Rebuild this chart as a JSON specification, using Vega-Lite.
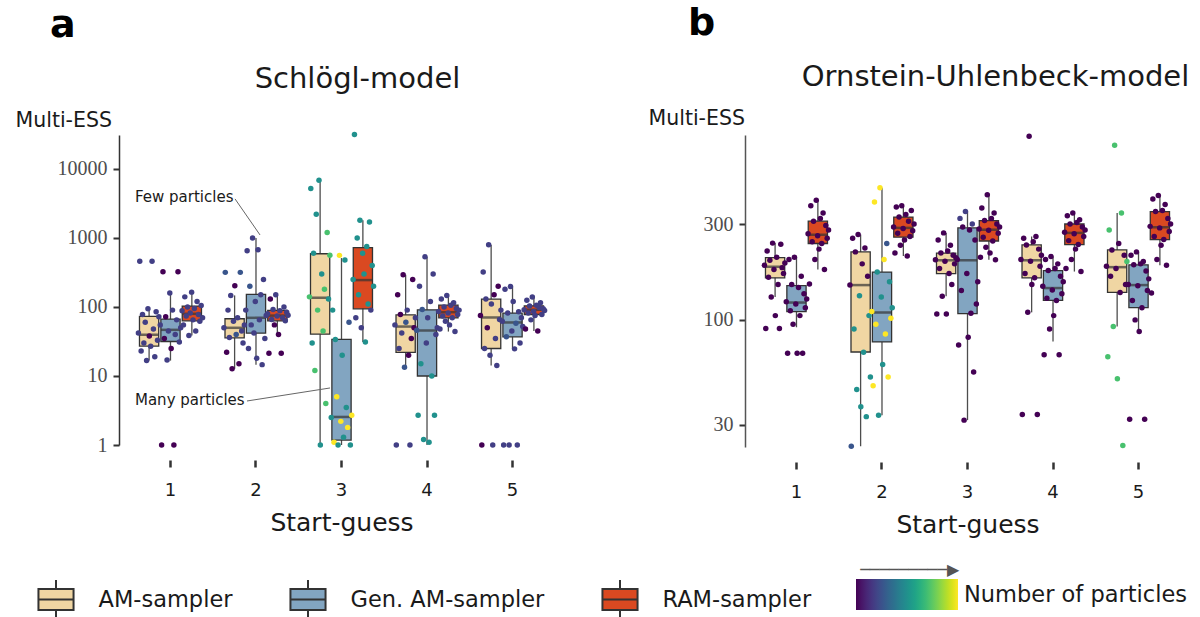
{
"$schema": "https://vega.github.io/schema/vega-lite/v6.json",
"padding": {"left": 15, "top": 5, "right": 0, "bottom": 0},
"background": "white",
"config": {"view": {"stroke": null}, "font": "DejaVu Sans", "axis": {"labelFont": "DejaVu Sans", "titleFont": "DejaVu Sans"}, "legend": {"labelFont": "DejaVu Sans", "titleFont": "DejaVu Sans"}},
"datasets": {
"sb": [
{"guess":1,"sampler":"AM-sampler","lo":16.7,"q1":27,"med":39.5,"q3":72.8,"hi":94},
{"guess":1,"sampler":"Gen. AM-sampler","lo":16.7,"q1":31.6,"med":46.6,"q3":66.6,"hi":159},
{"guess":1,"sampler":"RAM-sampler","lo":38.6,"q1":63,"med":79.6,"q3":103,"hi":164},
{"guess":2,"sampler":"AM-sampler","lo":12.7,"q1":35.7,"med":49.9,"q3":67.5,"hi":147},
{"guess":2,"sampler":"Gen. AM-sampler","lo":14.6,"q1":41.7,"med":69.6,"q3":152,"hi":1000},
{"guess":2,"sampler":"RAM-sampler","lo":38.6,"q1":63,"med":75,"q3":89,"hi":150},
{"guess":3,"sampler":"AM-sampler","lo":1,"q1":40.3,"med":136,"q3":590,"hi":6850},
{"guess":3,"sampler":"Gen. AM-sampler","lo":1,"q1":1.18,"med":2.55,"q3":33.8,"hi":511},
{"guess":3,"sampler":"RAM-sampler","lo":31,"q1":94,"med":245,"q3":722,"hi":1800},
{"guess":4,"sampler":"AM-sampler","lo":13.4,"q1":22,"med":52,"q3":77,"hi":293},
{"guess":4,"sampler":"Gen. AM-sampler","lo":1,"q1":10,"med":45.6,"q3":91,"hi":535},
{"guess":4,"sampler":"RAM-sampler","lo":44,"q1":69.6,"med":84,"q3":106,"hi":147},
{"guess":5,"sampler":"AM-sampler","lo":14.2,"q1":25,"med":70.4,"q3":130,"hi":798},
{"guess":5,"sampler":"Gen. AM-sampler","lo":24.7,"q1":36.9,"med":59.6,"q3":81.4,"hi":198},
{"guess":5,"sampler":"RAM-sampler","lo":44.8,"q1":77.8,"med":91,"q3":104,"hi":139}
],
"ob": [
{"guess":1,"sampler":"AM-sampler","lo":130,"q1":162,"med":184,"q3":204,"hi":241},
{"guess":1,"sampler":"Gen. AM-sampler","lo":91.9,"q1":110,"med":122,"q3":148,"hi":205},
{"guess":1,"sampler":"RAM-sampler","lo":178,"q1":240,"med":265,"q3":310,"hi":394},
{"guess":2,"sampler":"AM-sampler","lo":23.5,"q1":69.2,"med":149,"q3":218,"hi":266},
{"guess":2,"sampler":"Gen. AM-sampler","lo":33.5,"q1":77.7,"med":108.8,"q3":173,"hi":454},
{"guess":2,"sampler":"RAM-sampler","lo":208,"q1":258,"med":287,"q3":325,"hi":370},
{"guess":3,"sampler":"AM-sampler","lo":131,"q1":170,"med":198,"q3":215,"hi":271},
{"guess":3,"sampler":"Gen. AM-sampler","lo":31.7,"q1":107.5,"med":198,"q3":287,"hi":346},
{"guess":3,"sampler":"RAM-sampler","lo":199,"q1":247,"med":281,"q3":312,"hi":419},
{"guess":4,"sampler":"AM-sampler","lo":109,"q1":162,"med":198,"q3":236,"hi":260},
{"guess":4,"sampler":"Gen. AM-sampler","lo":78,"q1":125,"med":144,"q3":176,"hi":207},
{"guess":4,"sampler":"RAM-sampler","lo":174,"q1":237,"med":271,"q3":300,"hi":340},
{"guess":5,"sampler":"AM-sampler","lo":92.6,"q1":137,"med":183,"q3":223,"hi":340},
{"guess":5,"sampler":"Gen. AM-sampler","lo":87.5,"q1":115,"med":149,"q3":188,"hi":218},
{"guess":5,"sampler":"RAM-sampler","lo":187,"q1":251,"med":289,"q3":346,"hi":416}
],
"sa": [
{"label":"Few particles","tx":0.585,"ty":3930,"x1":1.755,"y1":3675,"x2":2.047,"y2":1105},
{"label":"Many particles","tx":0.585,"ty":4.49,"x1":1.895,"y1":4.34,"x2":2.866,"y2":6.7}
],
"sp": [
{"guess":1,"sampler":"AM-sampler","ess":42,"particles":45},{"guess":1,"sampler":"AM-sampler","ess":458,"particles":45},{"guess":1,"sampler":"AM-sampler","ess":23,"particles":45},{"guess":1,"sampler":"AM-sampler","ess":78,"particles":45},{"guess":1,"sampler":"AM-sampler","ess":30,"particles":45},{"guess":1,"sampler":"AM-sampler","ess":60,"particles":45},{"guess":1,"sampler":"AM-sampler","ess":16.7,"particles":45},{"guess":1,"sampler":"AM-sampler","ess":94,"particles":45},{"guess":1,"sampler":"AM-sampler","ess":38,"particles":10},{"guess":1,"sampler":"AM-sampler","ess":27,"particles":45},{"guess":1,"sampler":"AM-sampler","ess":458,"particles":45},{"guess":1,"sampler":"AM-sampler","ess":48,"particles":45},{"guess":1,"sampler":"AM-sampler","ess":19,"particles":45},{"guess":1,"sampler":"AM-sampler","ess":85,"particles":45},{"guess":1,"sampler":"AM-sampler","ess":33,"particles":45},{"guess":1,"sampler":"AM-sampler","ess":72,"particles":45},
{"guess":1,"sampler":"Gen. AM-sampler","ess":55,"particles":45},{"guess":1,"sampler":"Gen. AM-sampler","ess":1,"particles":10},{"guess":1,"sampler":"Gen. AM-sampler","ess":324,"particles":10},{"guess":1,"sampler":"Gen. AM-sampler","ess":35,"particles":10},{"guess":1,"sampler":"Gen. AM-sampler","ess":72,"particles":10},{"guess":1,"sampler":"Gen. AM-sampler","ess":17,"particles":45},{"guess":1,"sampler":"Gen. AM-sampler","ess":45,"particles":45},{"guess":1,"sampler":"Gen. AM-sampler","ess":159,"particles":45},{"guess":1,"sampler":"Gen. AM-sampler","ess":25,"particles":10},{"guess":1,"sampler":"Gen. AM-sampler","ess":90,"particles":45},{"guess":1,"sampler":"Gen. AM-sampler","ess":1,"particles":10},{"guess":1,"sampler":"Gen. AM-sampler","ess":40,"particles":45},{"guess":1,"sampler":"Gen. AM-sampler","ess":65,"particles":45},{"guess":1,"sampler":"Gen. AM-sampler","ess":324,"particles":10},{"guess":1,"sampler":"Gen. AM-sampler","ess":31,"particles":45},{"guess":1,"sampler":"Gen. AM-sampler","ess":50,"particles":45},
{"guess":1,"sampler":"RAM-sampler","ess":88,"particles":45},{"guess":1,"sampler":"RAM-sampler","ess":55,"particles":45},{"guess":1,"sampler":"RAM-sampler","ess":140,"particles":45},{"guess":1,"sampler":"RAM-sampler","ess":74,"particles":45},{"guess":1,"sampler":"RAM-sampler","ess":100,"particles":45},{"guess":1,"sampler":"RAM-sampler","ess":38.6,"particles":45},{"guess":1,"sampler":"RAM-sampler","ess":82,"particles":45},{"guess":1,"sampler":"RAM-sampler","ess":164,"particles":45},{"guess":1,"sampler":"RAM-sampler","ess":65,"particles":45},{"guess":1,"sampler":"RAM-sampler","ess":95,"particles":45},{"guess":1,"sampler":"RAM-sampler","ess":45,"particles":45},{"guess":1,"sampler":"RAM-sampler","ess":120,"particles":45},{"guess":1,"sampler":"RAM-sampler","ess":78,"particles":45},{"guess":1,"sampler":"RAM-sampler","ess":62,"particles":45},{"guess":1,"sampler":"RAM-sampler","ess":105,"particles":45},{"guess":1,"sampler":"RAM-sampler","ess":70,"particles":45},
{"guess":2,"sampler":"AM-sampler","ess":50,"particles":45},{"guess":2,"sampler":"AM-sampler","ess":317,"particles":60},{"guess":2,"sampler":"AM-sampler","ess":22,"particles":10},{"guess":2,"sampler":"AM-sampler","ess":90,"particles":45},{"guess":2,"sampler":"AM-sampler","ess":36,"particles":45},{"guess":2,"sampler":"AM-sampler","ess":147,"particles":45},{"guess":2,"sampler":"AM-sampler","ess":12.7,"particles":10},{"guess":2,"sampler":"AM-sampler","ess":62,"particles":45},{"guess":2,"sampler":"AM-sampler","ess":203,"particles":10},{"guess":2,"sampler":"AM-sampler","ess":40,"particles":60},{"guess":2,"sampler":"AM-sampler","ess":70,"particles":45},{"guess":2,"sampler":"AM-sampler","ess":15,"particles":10},{"guess":2,"sampler":"AM-sampler","ess":317,"particles":60},{"guess":2,"sampler":"AM-sampler","ess":45,"particles":45},{"guess":2,"sampler":"AM-sampler","ess":30,"particles":45},{"guess":2,"sampler":"AM-sampler","ess":55,"particles":45},
{"guess":2,"sampler":"Gen. AM-sampler","ess":90,"particles":45},{"guess":2,"sampler":"Gen. AM-sampler","ess":650,"particles":45},{"guess":2,"sampler":"Gen. AM-sampler","ess":25,"particles":45},{"guess":2,"sampler":"Gen. AM-sampler","ess":200,"particles":60},{"guess":2,"sampler":"Gen. AM-sampler","ess":55,"particles":45},{"guess":2,"sampler":"Gen. AM-sampler","ess":1000,"particles":45},{"guess":2,"sampler":"Gen. AM-sampler","ess":42,"particles":45},{"guess":2,"sampler":"Gen. AM-sampler","ess":120,"particles":45},{"guess":2,"sampler":"Gen. AM-sampler","ess":18,"particles":45},{"guess":2,"sampler":"Gen. AM-sampler","ess":676,"particles":45},{"guess":2,"sampler":"Gen. AM-sampler","ess":65,"particles":45},{"guess":2,"sampler":"Gen. AM-sampler","ess":150,"particles":45},{"guess":2,"sampler":"Gen. AM-sampler","ess":14.6,"particles":45},{"guess":2,"sampler":"Gen. AM-sampler","ess":250,"particles":45},{"guess":2,"sampler":"Gen. AM-sampler","ess":35,"particles":45},{"guess":2,"sampler":"Gen. AM-sampler","ess":75,"particles":45},
{"guess":2,"sampler":"RAM-sampler","ess":80,"particles":45},{"guess":2,"sampler":"RAM-sampler","ess":21.4,"particles":10},{"guess":2,"sampler":"RAM-sampler","ess":130,"particles":10},{"guess":2,"sampler":"RAM-sampler","ess":66,"particles":45},{"guess":2,"sampler":"RAM-sampler","ess":92,"particles":45},{"guess":2,"sampler":"RAM-sampler","ess":55,"particles":10},{"guess":2,"sampler":"RAM-sampler","ess":150,"particles":45},{"guess":2,"sampler":"RAM-sampler","ess":74,"particles":45},{"guess":2,"sampler":"RAM-sampler","ess":40,"particles":10},{"guess":2,"sampler":"RAM-sampler","ess":88,"particles":45},{"guess":2,"sampler":"RAM-sampler","ess":21.4,"particles":10},{"guess":2,"sampler":"RAM-sampler","ess":70,"particles":45},{"guess":2,"sampler":"RAM-sampler","ess":100,"particles":45},{"guess":2,"sampler":"RAM-sampler","ess":63,"particles":45},{"guess":2,"sampler":"RAM-sampler","ess":84,"particles":45},{"guess":2,"sampler":"RAM-sampler","ess":76,"particles":45},
{"guess":3,"sampler":"AM-sampler","ess":140,"particles":145},{"guess":3,"sampler":"AM-sampler","ess":5200,"particles":105},{"guess":3,"sampler":"AM-sampler","ess":30,"particles":105},{"guess":3,"sampler":"AM-sampler","ess":600,"particles":105},{"guess":3,"sampler":"AM-sampler","ess":12,"particles":145},{"guess":3,"sampler":"AM-sampler","ess":2200,"particles":105},{"guess":3,"sampler":"AM-sampler","ess":90,"particles":145},{"guess":3,"sampler":"AM-sampler","ess":6850,"particles":105},{"guess":3,"sampler":"AM-sampler","ess":1,"particles":105},{"guess":3,"sampler":"AM-sampler","ess":300,"particles":105},{"guess":3,"sampler":"AM-sampler","ess":45,"particles":145},{"guess":3,"sampler":"AM-sampler","ess":180,"particles":145},{"guess":3,"sampler":"AM-sampler","ess":4,"particles":145},{"guess":3,"sampler":"AM-sampler","ess":1200,"particles":145},{"guess":3,"sampler":"AM-sampler","ess":130,"particles":105},{"guess":3,"sampler":"AM-sampler","ess":560,"particles":145},
{"guess":3,"sampler":"Gen. AM-sampler","ess":2.5,"particles":105},{"guess":3,"sampler":"Gen. AM-sampler","ess":90,"particles":105},{"guess":3,"sampler":"Gen. AM-sampler","ess":1.1,"particles":200},{"guess":3,"sampler":"Gen. AM-sampler","ess":33.8,"particles":105},{"guess":3,"sampler":"Gen. AM-sampler","ess":5,"particles":200},{"guess":3,"sampler":"Gen. AM-sampler","ess":1,"particles":105},{"guess":3,"sampler":"Gen. AM-sampler","ess":559,"particles":200},{"guess":3,"sampler":"Gen. AM-sampler","ess":2.2,"particles":200},{"guess":3,"sampler":"Gen. AM-sampler","ess":20,"particles":105},{"guess":3,"sampler":"Gen. AM-sampler","ess":1.3,"particles":105},{"guess":3,"sampler":"Gen. AM-sampler","ess":480,"particles":105},{"guess":3,"sampler":"Gen. AM-sampler","ess":3.5,"particles":105},{"guess":3,"sampler":"Gen. AM-sampler","ess":1.8,"particles":200},{"guess":3,"sampler":"Gen. AM-sampler","ess":60,"particles":60},{"guess":3,"sampler":"Gen. AM-sampler","ess":1,"particles":105},{"guess":3,"sampler":"Gen. AM-sampler","ess":2.7,"particles":200},
{"guess":3,"sampler":"RAM-sampler","ess":250,"particles":105},{"guess":3,"sampler":"RAM-sampler","ess":31500,"particles":105},{"guess":3,"sampler":"RAM-sampler","ess":70,"particles":45},{"guess":3,"sampler":"RAM-sampler","ess":1000,"particles":105},{"guess":3,"sampler":"RAM-sampler","ess":150,"particles":105},{"guess":3,"sampler":"RAM-sampler","ess":1800,"particles":105},{"guess":3,"sampler":"RAM-sampler","ess":50,"particles":45},{"guess":3,"sampler":"RAM-sampler","ess":600,"particles":105},{"guess":3,"sampler":"RAM-sampler","ess":300,"particles":105},{"guess":3,"sampler":"RAM-sampler","ess":31,"particles":105},{"guess":3,"sampler":"RAM-sampler","ess":750,"particles":105},{"guess":3,"sampler":"RAM-sampler","ess":110,"particles":105},{"guess":3,"sampler":"RAM-sampler","ess":1700,"particles":105},{"guess":3,"sampler":"RAM-sampler","ess":90,"particles":45},{"guess":3,"sampler":"RAM-sampler","ess":400,"particles":105},{"guess":3,"sampler":"RAM-sampler","ess":200,"particles":105},
{"guess":4,"sampler":"AM-sampler","ess":55,"particles":45},{"guess":4,"sampler":"AM-sampler","ess":1,"particles":45},{"guess":4,"sampler":"AM-sampler","ess":150,"particles":10},{"guess":4,"sampler":"AM-sampler","ess":25,"particles":45},{"guess":4,"sampler":"AM-sampler","ess":78,"particles":10},{"guess":4,"sampler":"AM-sampler","ess":42,"particles":45},{"guess":4,"sampler":"AM-sampler","ess":293,"particles":10},{"guess":4,"sampler":"AM-sampler","ess":13.4,"particles":60},{"guess":4,"sampler":"AM-sampler","ess":60,"particles":60},{"guess":4,"sampler":"AM-sampler","ess":90,"particles":45},{"guess":4,"sampler":"AM-sampler","ess":20,"particles":10},{"guess":4,"sampler":"AM-sampler","ess":1,"particles":45},{"guess":4,"sampler":"AM-sampler","ess":35,"particles":10},{"guess":4,"sampler":"AM-sampler","ess":250,"particles":10},{"guess":4,"sampler":"AM-sampler","ess":50,"particles":10},{"guess":4,"sampler":"AM-sampler","ess":70,"particles":45},
{"guess":4,"sampler":"Gen. AM-sampler","ess":46,"particles":60},{"guess":4,"sampler":"Gen. AM-sampler","ess":2.7,"particles":105},{"guess":4,"sampler":"Gen. AM-sampler","ess":200,"particles":45},{"guess":4,"sampler":"Gen. AM-sampler","ess":15,"particles":105},{"guess":4,"sampler":"Gen. AM-sampler","ess":92,"particles":60},{"guess":4,"sampler":"Gen. AM-sampler","ess":1.2,"particles":105},{"guess":4,"sampler":"Gen. AM-sampler","ess":535,"particles":45},{"guess":4,"sampler":"Gen. AM-sampler","ess":30,"particles":45},{"guess":4,"sampler":"Gen. AM-sampler","ess":70,"particles":45},{"guess":4,"sampler":"Gen. AM-sampler","ess":1.1,"particles":105},{"guess":4,"sampler":"Gen. AM-sampler","ess":120,"particles":45},{"guess":4,"sampler":"Gen. AM-sampler","ess":10,"particles":105},{"guess":4,"sampler":"Gen. AM-sampler","ess":300,"particles":45},{"guess":4,"sampler":"Gen. AM-sampler","ess":2.7,"particles":105},{"guess":4,"sampler":"Gen. AM-sampler","ess":40,"particles":45},{"guess":4,"sampler":"Gen. AM-sampler","ess":50,"particles":45},
{"guess":4,"sampler":"RAM-sampler","ess":86,"particles":45},{"guess":4,"sampler":"RAM-sampler","ess":48,"particles":45},{"guess":4,"sampler":"RAM-sampler","ess":130,"particles":45},{"guess":4,"sampler":"RAM-sampler","ess":74,"particles":45},{"guess":4,"sampler":"RAM-sampler","ess":100,"particles":45},{"guess":4,"sampler":"RAM-sampler","ess":62,"particles":45},{"guess":4,"sampler":"RAM-sampler","ess":147,"particles":45},{"guess":4,"sampler":"RAM-sampler","ess":82,"particles":45},{"guess":4,"sampler":"RAM-sampler","ess":55,"particles":45},{"guess":4,"sampler":"RAM-sampler","ess":106,"particles":45},{"guess":4,"sampler":"RAM-sampler","ess":70,"particles":45},{"guess":4,"sampler":"RAM-sampler","ess":115,"particles":45},{"guess":4,"sampler":"RAM-sampler","ess":44,"particles":45},{"guess":4,"sampler":"RAM-sampler","ess":95,"particles":45},{"guess":4,"sampler":"RAM-sampler","ess":78,"particles":45},{"guess":4,"sampler":"RAM-sampler","ess":90,"particles":45},
{"guess":5,"sampler":"AM-sampler","ess":75,"particles":10},{"guess":5,"sampler":"AM-sampler","ess":1,"particles":10},{"guess":5,"sampler":"AM-sampler","ess":320,"particles":45},{"guess":5,"sampler":"AM-sampler","ess":25,"particles":45},{"guess":5,"sampler":"AM-sampler","ess":130,"particles":45},{"guess":5,"sampler":"AM-sampler","ess":50,"particles":10},{"guess":5,"sampler":"AM-sampler","ess":798,"particles":45},{"guess":5,"sampler":"AM-sampler","ess":20,"particles":45},{"guess":5,"sampler":"AM-sampler","ess":110,"particles":45},{"guess":5,"sampler":"AM-sampler","ess":1,"particles":45},{"guess":5,"sampler":"AM-sampler","ess":150,"particles":10},{"guess":5,"sampler":"AM-sampler","ess":35,"particles":45},{"guess":5,"sampler":"AM-sampler","ess":14.2,"particles":45},{"guess":5,"sampler":"AM-sampler","ess":200,"particles":10},{"guess":5,"sampler":"AM-sampler","ess":66,"particles":45},{"guess":5,"sampler":"AM-sampler","ess":90,"particles":45},
{"guess":5,"sampler":"Gen. AM-sampler","ess":62,"particles":45},{"guess":5,"sampler":"Gen. AM-sampler","ess":1,"particles":45},{"guess":5,"sampler":"Gen. AM-sampler","ess":180,"particles":45},{"guess":5,"sampler":"Gen. AM-sampler","ess":37,"particles":60},{"guess":5,"sampler":"Gen. AM-sampler","ess":82,"particles":45},{"guess":5,"sampler":"Gen. AM-sampler","ess":1,"particles":45},{"guess":5,"sampler":"Gen. AM-sampler","ess":198,"particles":45},{"guess":5,"sampler":"Gen. AM-sampler","ess":45,"particles":45},{"guess":5,"sampler":"Gen. AM-sampler","ess":120,"particles":45},{"guess":5,"sampler":"Gen. AM-sampler","ess":24.7,"particles":45},{"guess":5,"sampler":"Gen. AM-sampler","ess":58,"particles":60},{"guess":5,"sampler":"Gen. AM-sampler","ess":1,"particles":45},{"guess":5,"sampler":"Gen. AM-sampler","ess":85,"particles":45},{"guess":5,"sampler":"Gen. AM-sampler","ess":30,"particles":45},{"guess":5,"sampler":"Gen. AM-sampler","ess":70,"particles":45},{"guess":5,"sampler":"Gen. AM-sampler","ess":52,"particles":45},
{"guess":5,"sampler":"RAM-sampler","ess":91,"particles":45},{"guess":5,"sampler":"RAM-sampler","ess":48,"particles":10},{"guess":5,"sampler":"RAM-sampler","ess":125,"particles":45},{"guess":5,"sampler":"RAM-sampler","ess":82,"particles":45},{"guess":5,"sampler":"RAM-sampler","ess":103,"particles":45},{"guess":5,"sampler":"RAM-sampler","ess":65,"particles":45},{"guess":5,"sampler":"RAM-sampler","ess":139,"particles":45},{"guess":5,"sampler":"RAM-sampler","ess":86,"particles":45},{"guess":5,"sampler":"RAM-sampler","ess":75,"particles":45},{"guess":5,"sampler":"RAM-sampler","ess":106,"particles":45},{"guess":5,"sampler":"RAM-sampler","ess":44.8,"particles":10},{"guess":5,"sampler":"RAM-sampler","ess":98,"particles":45},{"guess":5,"sampler":"RAM-sampler","ess":115,"particles":45},{"guess":5,"sampler":"RAM-sampler","ess":78,"particles":45},{"guess":5,"sampler":"RAM-sampler","ess":94,"particles":45},{"guess":5,"sampler":"RAM-sampler","ess":89,"particles":45}
],
"op": [
{"guess":1,"sampler":"AM-sampler","ess":187,"particles":10},{"guess":1,"sampler":"AM-sampler","ess":90.5,"particles":10},{"guess":1,"sampler":"AM-sampler","ess":220,"particles":10},{"guess":1,"sampler":"AM-sampler","ess":163,"particles":10},{"guess":1,"sampler":"AM-sampler","ess":198,"particles":10},{"guess":1,"sampler":"AM-sampler","ess":130,"particles":10},{"guess":1,"sampler":"AM-sampler","ess":241,"particles":10},{"guess":1,"sampler":"AM-sampler","ess":178,"particles":10},{"guess":1,"sampler":"AM-sampler","ess":105,"particles":10},{"guess":1,"sampler":"AM-sampler","ess":205,"particles":10},{"guess":1,"sampler":"AM-sampler","ess":150,"particles":10},{"guess":1,"sampler":"AM-sampler","ess":90.5,"particles":10},{"guess":1,"sampler":"AM-sampler","ess":238,"particles":10},{"guess":1,"sampler":"AM-sampler","ess":182,"particles":10},{"guess":1,"sampler":"AM-sampler","ess":170,"particles":10},{"guess":1,"sampler":"AM-sampler","ess":192,"particles":10},
{"guess":1,"sampler":"Gen. AM-sampler","ess":123,"particles":10},{"guess":1,"sampler":"Gen. AM-sampler","ess":68.2,"particles":10},{"guess":1,"sampler":"Gen. AM-sampler","ess":200,"particles":10},{"guess":1,"sampler":"Gen. AM-sampler","ess":111,"particles":10},{"guess":1,"sampler":"Gen. AM-sampler","ess":150,"particles":10},{"guess":1,"sampler":"Gen. AM-sampler","ess":95,"particles":10},{"guess":1,"sampler":"Gen. AM-sampler","ess":205,"particles":10},{"guess":1,"sampler":"Gen. AM-sampler","ess":120,"particles":10},{"guess":1,"sampler":"Gen. AM-sampler","ess":68.2,"particles":10},{"guess":1,"sampler":"Gen. AM-sampler","ess":145,"particles":10},{"guess":1,"sampler":"Gen. AM-sampler","ess":105,"particles":10},{"guess":1,"sampler":"Gen. AM-sampler","ess":165,"particles":10},{"guess":1,"sampler":"Gen. AM-sampler","ess":68.2,"particles":10},{"guess":1,"sampler":"Gen. AM-sampler","ess":135,"particles":10},{"guess":1,"sampler":"Gen. AM-sampler","ess":115,"particles":10},{"guess":1,"sampler":"Gen. AM-sampler","ess":127,"particles":10},
{"guess":1,"sampler":"RAM-sampler","ess":268,"particles":10},{"guess":1,"sampler":"RAM-sampler","ess":151,"particles":10},{"guess":1,"sampler":"RAM-sampler","ess":370,"particles":10},{"guess":1,"sampler":"RAM-sampler","ess":245,"particles":10},{"guess":1,"sampler":"RAM-sampler","ess":310,"particles":10},{"guess":1,"sampler":"RAM-sampler","ess":200,"particles":10},{"guess":1,"sampler":"RAM-sampler","ess":394,"particles":10},{"guess":1,"sampler":"RAM-sampler","ess":262,"particles":10},{"guess":1,"sampler":"RAM-sampler","ess":225,"particles":10},{"guess":1,"sampler":"RAM-sampler","ess":320,"particles":10},{"guess":1,"sampler":"RAM-sampler","ess":240,"particles":10},{"guess":1,"sampler":"RAM-sampler","ess":340,"particles":10},{"guess":1,"sampler":"RAM-sampler","ess":178,"particles":10},{"guess":1,"sampler":"RAM-sampler","ess":295,"particles":10},{"guess":1,"sampler":"RAM-sampler","ess":255,"particles":10},{"guess":1,"sampler":"RAM-sampler","ess":280,"particles":10},
{"guess":2,"sampler":"AM-sampler","ess":149,"particles":10},{"guess":2,"sampler":"AM-sampler","ess":23.5,"particles":60},{"guess":2,"sampler":"AM-sampler","ess":255,"particles":10},{"guess":2,"sampler":"AM-sampler","ess":90,"particles":105},{"guess":2,"sampler":"AM-sampler","ess":218,"particles":10},{"guess":2,"sampler":"AM-sampler","ess":45,"particles":105},{"guess":2,"sampler":"AM-sampler","ess":266,"particles":10},{"guess":2,"sampler":"AM-sampler","ess":132,"particles":105},{"guess":2,"sampler":"AM-sampler","ess":37,"particles":105},{"guess":2,"sampler":"AM-sampler","ess":190,"particles":10},{"guess":2,"sampler":"AM-sampler","ess":69,"particles":105},{"guess":2,"sampler":"AM-sampler","ess":228,"particles":10},{"guess":2,"sampler":"AM-sampler","ess":33,"particles":105},{"guess":2,"sampler":"AM-sampler","ess":165,"particles":10},{"guess":2,"sampler":"AM-sampler","ess":105,"particles":105},{"guess":2,"sampler":"AM-sampler","ess":52,"particles":105},
{"guess":2,"sampler":"Gen. AM-sampler","ess":110,"particles":200},{"guess":2,"sampler":"Gen. AM-sampler","ess":47,"particles":200},{"guess":2,"sampler":"Gen. AM-sampler","ess":386,"particles":200},{"guess":2,"sampler":"Gen. AM-sampler","ess":95,"particles":200},{"guess":2,"sampler":"Gen. AM-sampler","ess":173,"particles":105},{"guess":2,"sampler":"Gen. AM-sampler","ess":33.5,"particles":105},{"guess":2,"sampler":"Gen. AM-sampler","ess":454,"particles":200},{"guess":2,"sampler":"Gen. AM-sampler","ess":130,"particles":105},{"guess":2,"sampler":"Gen. AM-sampler","ess":60,"particles":105},{"guess":2,"sampler":"Gen. AM-sampler","ess":200,"particles":200},{"guess":2,"sampler":"Gen. AM-sampler","ess":85,"particles":200},{"guess":2,"sampler":"Gen. AM-sampler","ess":240,"particles":60},{"guess":2,"sampler":"Gen. AM-sampler","ess":52,"particles":200},{"guess":2,"sampler":"Gen. AM-sampler","ess":155,"particles":105},{"guess":2,"sampler":"Gen. AM-sampler","ess":102,"particles":200},{"guess":2,"sampler":"Gen. AM-sampler","ess":115,"particles":105},
{"guess":2,"sampler":"RAM-sampler","ess":290,"particles":10},{"guess":2,"sampler":"RAM-sampler","ess":215,"particles":10},{"guess":2,"sampler":"RAM-sampler","ess":365,"particles":10},{"guess":2,"sampler":"RAM-sampler","ess":270,"particles":10},{"guess":2,"sampler":"RAM-sampler","ess":325,"particles":10},{"guess":2,"sampler":"RAM-sampler","ess":235,"particles":10},{"guess":2,"sampler":"RAM-sampler","ess":370,"particles":10},{"guess":2,"sampler":"RAM-sampler","ess":285,"particles":10},{"guess":2,"sampler":"RAM-sampler","ess":250,"particles":10},{"guess":2,"sampler":"RAM-sampler","ess":335,"particles":10},{"guess":2,"sampler":"RAM-sampler","ess":208,"particles":10},{"guess":2,"sampler":"RAM-sampler","ess":310,"particles":10},{"guess":2,"sampler":"RAM-sampler","ess":260,"particles":10},{"guess":2,"sampler":"RAM-sampler","ess":350,"particles":10},{"guess":2,"sampler":"RAM-sampler","ess":278,"particles":10},{"guess":2,"sampler":"RAM-sampler","ess":300,"particles":10},
{"guess":3,"sampler":"AM-sampler","ess":199,"particles":10},{"guess":3,"sampler":"AM-sampler","ess":107,"particles":10},{"guess":3,"sampler":"AM-sampler","ess":250,"particles":10},{"guess":3,"sampler":"AM-sampler","ess":180,"particles":10},{"guess":3,"sampler":"AM-sampler","ess":215,"particles":10},{"guess":3,"sampler":"AM-sampler","ess":131,"particles":10},{"guess":3,"sampler":"AM-sampler","ess":271,"particles":10},{"guess":3,"sampler":"AM-sampler","ess":196,"particles":10},{"guess":3,"sampler":"AM-sampler","ess":107,"particles":10},{"guess":3,"sampler":"AM-sampler","ess":220,"particles":10},{"guess":3,"sampler":"AM-sampler","ess":170,"particles":10},{"guess":3,"sampler":"AM-sampler","ess":235,"particles":10},{"guess":3,"sampler":"AM-sampler","ess":150,"particles":10},{"guess":3,"sampler":"AM-sampler","ess":210,"particles":10},{"guess":3,"sampler":"AM-sampler","ess":190,"particles":10},{"guess":3,"sampler":"AM-sampler","ess":204,"particles":10},
{"guess":3,"sampler":"Gen. AM-sampler","ess":200,"particles":10},{"guess":3,"sampler":"Gen. AM-sampler","ess":75,"particles":10},{"guess":3,"sampler":"Gen. AM-sampler","ess":320,"particles":45},{"guess":3,"sampler":"Gen. AM-sampler","ess":140,"particles":10},{"guess":3,"sampler":"Gen. AM-sampler","ess":290,"particles":10},{"guess":3,"sampler":"Gen. AM-sampler","ess":31.7,"particles":10},{"guess":3,"sampler":"Gen. AM-sampler","ess":346,"particles":45},{"guess":3,"sampler":"Gen. AM-sampler","ess":170,"particles":10},{"guess":3,"sampler":"Gen. AM-sampler","ess":82,"particles":10},{"guess":3,"sampler":"Gen. AM-sampler","ess":280,"particles":10},{"guess":3,"sampler":"Gen. AM-sampler","ess":108,"particles":10},{"guess":3,"sampler":"Gen. AM-sampler","ess":300,"particles":45},{"guess":3,"sampler":"Gen. AM-sampler","ess":55,"particles":10},{"guess":3,"sampler":"Gen. AM-sampler","ess":250,"particles":10},{"guess":3,"sampler":"Gen. AM-sampler","ess":120,"particles":10},{"guess":3,"sampler":"Gen. AM-sampler","ess":155,"particles":10},
{"guess":3,"sampler":"RAM-sampler","ess":283,"particles":10},{"guess":3,"sampler":"RAM-sampler","ess":205,"particles":10},{"guess":3,"sampler":"RAM-sampler","ess":360,"particles":10},{"guess":3,"sampler":"RAM-sampler","ess":258,"particles":10},{"guess":3,"sampler":"RAM-sampler","ess":312,"particles":10},{"guess":3,"sampler":"RAM-sampler","ess":230,"particles":10},{"guess":3,"sampler":"RAM-sampler","ess":419,"particles":10},{"guess":3,"sampler":"RAM-sampler","ess":279,"particles":10},{"guess":3,"sampler":"RAM-sampler","ess":215,"particles":10},{"guess":3,"sampler":"RAM-sampler","ess":320,"particles":10},{"guess":3,"sampler":"RAM-sampler","ess":247,"particles":10},{"guess":3,"sampler":"RAM-sampler","ess":340,"particles":10},{"guess":3,"sampler":"RAM-sampler","ess":199,"particles":10},{"guess":3,"sampler":"RAM-sampler","ess":300,"particles":10},{"guess":3,"sampler":"RAM-sampler","ess":270,"particles":10},{"guess":3,"sampler":"RAM-sampler","ess":290,"particles":10},
{"guess":4,"sampler":"AM-sampler","ess":200,"particles":10},{"guess":4,"sampler":"AM-sampler","ess":33.8,"particles":10},{"guess":4,"sampler":"AM-sampler","ess":255,"particles":10},{"guess":4,"sampler":"AM-sampler","ess":170,"particles":10},{"guess":4,"sampler":"AM-sampler","ess":236,"particles":10},{"guess":4,"sampler":"AM-sampler","ess":109,"particles":10},{"guess":4,"sampler":"AM-sampler","ess":821,"particles":10},{"guess":4,"sampler":"AM-sampler","ess":196,"particles":10},{"guess":4,"sampler":"AM-sampler","ess":150,"particles":10},{"guess":4,"sampler":"AM-sampler","ess":245,"particles":10},{"guess":4,"sampler":"AM-sampler","ess":162,"particles":10},{"guess":4,"sampler":"AM-sampler","ess":260,"particles":10},{"guess":4,"sampler":"AM-sampler","ess":33.8,"particles":10},{"guess":4,"sampler":"AM-sampler","ess":225,"particles":10},{"guess":4,"sampler":"AM-sampler","ess":185,"particles":10},{"guess":4,"sampler":"AM-sampler","ess":210,"particles":10},
{"guess":4,"sampler":"Gen. AM-sampler","ess":147,"particles":10},{"guess":4,"sampler":"Gen. AM-sampler","ess":67,"particles":10},{"guess":4,"sampler":"Gen. AM-sampler","ess":200,"particles":10},{"guess":4,"sampler":"Gen. AM-sampler","ess":128,"particles":10},{"guess":4,"sampler":"Gen. AM-sampler","ess":176,"particles":10},{"guess":4,"sampler":"Gen. AM-sampler","ess":90,"particles":10},{"guess":4,"sampler":"Gen. AM-sampler","ess":207,"particles":10},{"guess":4,"sampler":"Gen. AM-sampler","ess":141,"particles":10},{"guess":4,"sampler":"Gen. AM-sampler","ess":105,"particles":10},{"guess":4,"sampler":"Gen. AM-sampler","ess":180,"particles":10},{"guess":4,"sampler":"Gen. AM-sampler","ess":125,"particles":10},{"guess":4,"sampler":"Gen. AM-sampler","ess":190,"particles":10},{"guess":4,"sampler":"Gen. AM-sampler","ess":67,"particles":10},{"guess":4,"sampler":"Gen. AM-sampler","ess":165,"particles":10},{"guess":4,"sampler":"Gen. AM-sampler","ess":135,"particles":10},{"guess":4,"sampler":"Gen. AM-sampler","ess":155,"particles":10},
{"guess":4,"sampler":"RAM-sampler","ess":273,"particles":10},{"guess":4,"sampler":"RAM-sampler","ess":180,"particles":10},{"guess":4,"sampler":"RAM-sampler","ess":330,"particles":10},{"guess":4,"sampler":"RAM-sampler","ess":248,"particles":10},{"guess":4,"sampler":"RAM-sampler","ess":300,"particles":10},{"guess":4,"sampler":"RAM-sampler","ess":200,"particles":10},{"guess":4,"sampler":"RAM-sampler","ess":340,"particles":10},{"guess":4,"sampler":"RAM-sampler","ess":268,"particles":10},{"guess":4,"sampler":"RAM-sampler","ess":225,"particles":10},{"guess":4,"sampler":"RAM-sampler","ess":305,"particles":10},{"guess":4,"sampler":"RAM-sampler","ess":237,"particles":10},{"guess":4,"sampler":"RAM-sampler","ess":315,"particles":10},{"guess":4,"sampler":"RAM-sampler","ess":174,"particles":10},{"guess":4,"sampler":"RAM-sampler","ess":290,"particles":10},{"guess":4,"sampler":"RAM-sampler","ess":260,"particles":10},{"guess":4,"sampler":"RAM-sampler","ess":280,"particles":10},
{"guess":5,"sampler":"AM-sampler","ess":185,"particles":10},{"guess":5,"sampler":"AM-sampler","ess":65.6,"particles":145},{"guess":5,"sampler":"AM-sampler","ess":280,"particles":145},{"guess":5,"sampler":"AM-sampler","ess":165,"particles":10},{"guess":5,"sampler":"AM-sampler","ess":223,"particles":10},{"guess":5,"sampler":"AM-sampler","ess":92.6,"particles":145},{"guess":5,"sampler":"AM-sampler","ess":740,"particles":145},{"guess":5,"sampler":"AM-sampler","ess":180,"particles":10},{"guess":5,"sampler":"AM-sampler","ess":51,"particles":145},{"guess":5,"sampler":"AM-sampler","ess":240,"particles":10},{"guess":5,"sampler":"AM-sampler","ess":137,"particles":10},{"guess":5,"sampler":"AM-sampler","ess":340,"particles":145},{"guess":5,"sampler":"AM-sampler","ess":23.7,"particles":145},{"guess":5,"sampler":"AM-sampler","ess":210,"particles":10},{"guess":5,"sampler":"AM-sampler","ess":150,"particles":10},{"guess":5,"sampler":"AM-sampler","ess":195,"particles":145},
{"guess":5,"sampler":"Gen. AM-sampler","ess":150,"particles":10},{"guess":5,"sampler":"Gen. AM-sampler","ess":32,"particles":10},{"guess":5,"sampler":"Gen. AM-sampler","ess":210,"particles":10},{"guess":5,"sampler":"Gen. AM-sampler","ess":125,"particles":10},{"guess":5,"sampler":"Gen. AM-sampler","ess":188,"particles":10},{"guess":5,"sampler":"Gen. AM-sampler","ess":100,"particles":10},{"guess":5,"sampler":"Gen. AM-sampler","ess":218,"particles":10},{"guess":5,"sampler":"Gen. AM-sampler","ess":148,"particles":10},{"guess":5,"sampler":"Gen. AM-sampler","ess":87.5,"particles":10},{"guess":5,"sampler":"Gen. AM-sampler","ess":190,"particles":10},{"guess":5,"sampler":"Gen. AM-sampler","ess":115,"particles":10},{"guess":5,"sampler":"Gen. AM-sampler","ess":195,"particles":10},{"guess":5,"sampler":"Gen. AM-sampler","ess":32,"particles":10},{"guess":5,"sampler":"Gen. AM-sampler","ess":175,"particles":10},{"guess":5,"sampler":"Gen. AM-sampler","ess":140,"particles":10},{"guess":5,"sampler":"Gen. AM-sampler","ess":160,"particles":10},
{"guess":5,"sampler":"RAM-sampler","ess":292,"particles":10},{"guess":5,"sampler":"RAM-sampler","ess":136,"particles":10},{"guess":5,"sampler":"RAM-sampler","ess":400,"particles":10},{"guess":5,"sampler":"RAM-sampler","ess":260,"particles":10},{"guess":5,"sampler":"RAM-sampler","ess":346,"particles":10},{"guess":5,"sampler":"RAM-sampler","ess":200,"particles":10},{"guess":5,"sampler":"RAM-sampler","ess":416,"particles":10},{"guess":5,"sampler":"RAM-sampler","ess":287,"particles":10},{"guess":5,"sampler":"RAM-sampler","ess":235,"particles":10},{"guess":5,"sampler":"RAM-sampler","ess":350,"particles":10},{"guess":5,"sampler":"RAM-sampler","ess":251,"particles":10},{"guess":5,"sampler":"RAM-sampler","ess":375,"particles":10},{"guess":5,"sampler":"RAM-sampler","ess":187,"particles":10},{"guess":5,"sampler":"RAM-sampler","ess":320,"particles":10},{"guess":5,"sampler":"RAM-sampler","ess":275,"particles":10},{"guess":5,"sampler":"RAM-sampler","ess":300,"particles":10}
]
},
"hconcat": [
{
"title": {"text": "a", "anchor": "start", "fontSize": 38, "fontWeight": "bold", "font": "DejaVu Sans", "color": "#000000", "dx": 35, "offset": 20},
"vconcat": [
{
"width": 445, "height": 310,
"title": {"text": "Schlögl-model", "fontSize": 29, "fontWeight": "normal", "font": "DejaVu Sans", "color": "#1a1a1a", "anchor": "middle", "frame": "group", "dx": 16, "offset": 16},
"layer": [
{
"encoding": {"x": {"field": "guess", "type": "ordinal", "scale": {"paddingInner": 0.25, "paddingOuter": 0.227}, "axis": {"title": "Start-guess", "titleFontSize": 25, "titleFontWeight": "normal", "titleColor": "#1a1a1a", "titlePadding": 11, "labelFontSize": 18, "labelColor": "#1a1a1a", "labelAngle": 0, "labelPadding": 14, "domain": false, "tickSize": 7, "tickWidth": 2.5, "tickColor": "#333333", "offset": 15, "grid": false}}},
"layer": [
{"data": {"name": "sb"}, "mark": {"type": "rule", "color": "#4d4d4d", "strokeWidth": 1.3},
 "encoding": {"xOffset": {"field": "sampler", "scale": {"paddingInner": 0.1, "paddingOuter": 0.05}},
  "y": {"field": "lo", "type": "quantitative", "title": "Multi-ESS", "scale": {"type": "log", "domain": [1, 31000], "nice": false},
   "axis": {"values": [1, 10, 100, 1000, 10000], "format": "d", "labelFont": "Liberation Serif", "labelFontSize": 20, "labelColor": "#4d4d4d", "labelPadding": 6, "tickSize": 6, "tickWidth": 2, "tickColor": "#333333", "domainColor": "#333333", "domainWidth": 1.5, "grid": false, "titleAngle": 0, "titleAlign": "left", "titleBaseline": "alphabetic", "titleX": -104, "titleY": -9, "titleFontSize": 20.5, "titleFontWeight": "normal", "titleColor": "#1a1a1a"}},
  "y2": {"field": "hi"}}},
{"data": {"name": "sb"}, "mark": {"type": "bar", "stroke": "#333333", "strokeWidth": 1.3},
 "encoding": {"xOffset": {"field": "sampler", "scale": {"paddingInner": 0.1, "paddingOuter": 0.05}},
  "y": {"field": "q1", "type": "quantitative", "title": "Multi-ESS", "scale": {"type": "log", "domain": [1, 31000], "nice": false}},
  "y2": {"field": "q3"},
  "fill": {"field": "sampler", "type": "nominal", "scale": {"domain": ["AM-sampler", "Gen. AM-sampler", "RAM-sampler"], "range": ["#F0D6A3", "#82A5C1", "#DA4921"]},
   "legend": {"orient": "none", "legendX": -83.5, "legendY": 444, "direction": "horizontal", "title": null, "symbolType": "M-0.9,-0.54H0.9V0.54H-0.9Z M-0.9,0H0.9 M0,-1V-0.54 M0,0.54V1", "symbolSize": 1521, "symbolStrokeColor": "#333333", "symbolStrokeWidth": 2, "symbolOpacity": 1, "labelFontSize": 22.5, "labelColor": "#1a1a1a", "labelOffset": 22, "columnPadding": 53, "labelLimit": 400}}}},
{"data": {"name": "sb"}, "mark": {"type": "tick", "color": "#333333", "thickness": 2.5, "size": 19},
 "encoding": {"xOffset": {"field": "sampler", "scale": {"paddingInner": 0.1, "paddingOuter": 0.05}},
  "y": {"field": "med", "type": "quantitative", "title": "Multi-ESS", "scale": {"type": "log", "domain": [1, 31000], "nice": false}}}},
{"data": {"name": "sp"},
 "transform": [{"window": [{"op": "row_number", "as": "run"}], "groupby": ["guess", "sampler"]}, {"calculate": "100 + 100*indexof(['AM-sampler','Gen. AM-sampler','RAM-sampler'], datum.sampler) + datum.run", "as": "slot"}],
 "mark": {"type": "circle", "size": 30, "opacity": 1},
 "encoding": {"xOffset": {"field": "slot", "type": "ordinal", "scale": {"paddingInner": 0, "paddingOuter": 0}},
  "y": {"field": "ess", "type": "quantitative", "title": "Multi-ESS", "scale": {"type": "log", "domain": [1, 31000], "nice": false}},
  "color": {"field": "particles", "type": "quantitative", "scale": {"type": "linear", "scheme": "viridis", "domain": [10, 200]},
   "legend": {"orient": "none", "legendX": 737, "legendY": 444, "direction": "horizontal", "title": "Number of particles", "titleOrient": "right", "titleFontSize": 22.5, "titleFontWeight": "normal", "titleColor": "#1a1a1a", "titlePadding": 6, "titleLimit": 400, "gradientLength": 102, "gradientThickness": 31, "gradientStrokeWidth": 0, "values": [110], "labelExpr": "'─────────▶'", "labelFontSize": 16, "labelColor": "#555555", "labelBaseline": "middle", "labelOffset": -48, "labelOverlap": false, "labelLimit": 300}}}}
],
"resolve": {"scale": {"xOffset": "independent"}}
},
{
"data": {"name": "sa"},
"layer": [
{"mark": {"type": "rule", "color": "#666666", "strokeWidth": 1},
 "encoding": {"x": {"field": "x1", "type": "quantitative", "scale": {"domain": [0.398, 5.602], "nice": false, "zero": false}, "axis": null}, "x2": {"field": "x2"},
  "y": {"field": "y1", "type": "quantitative", "title": "Multi-ESS", "scale": {"type": "log", "domain": [1, 31000], "nice": false}}, "y2": {"field": "y2"}}},
{"mark": {"type": "text", "align": "left", "baseline": "middle", "fontSize": 15, "font": "DejaVu Sans", "color": "#1a1a1a"},
 "encoding": {"x": {"field": "tx", "type": "quantitative", "scale": {"domain": [0.398, 5.602], "nice": false, "zero": false}, "axis": null},
  "y": {"field": "ty", "type": "quantitative", "title": "Multi-ESS", "scale": {"type": "log", "domain": [1, 31000], "nice": false}}, "text": {"field": "label"}}}
]
}
],
"resolve": {"scale": {"x": "independent"}}
}
]
},
{
"title": {"text": "b", "anchor": "start", "fontSize": 38, "fontWeight": "bold", "font": "DejaVu Sans", "color": "#000000", "dx": 40, "offset": 20},
"vconcat": [
{
"width": 445, "height": 312,
"title": {"text": "Ornstein-Uhlenbeck-model", "fontSize": 29, "fontWeight": "normal", "font": "DejaVu Sans", "color": "#1a1a1a", "anchor": "middle", "frame": "group", "dx": 28, "offset": 16},
"encoding": {"x": {"field": "guess", "type": "ordinal", "scale": {"paddingInner": 0.25, "paddingOuter": 0.227}, "axis": {"title": "Start-guess", "titleFontSize": 25, "titleFontWeight": "normal", "titleColor": "#1a1a1a", "titlePadding": 11, "labelFontSize": 18, "labelColor": "#1a1a1a", "labelAngle": 0, "labelPadding": 14, "domain": false, "tickSize": 7, "tickWidth": 2.5, "tickColor": "#333333", "offset": 15, "grid": false}}},
"layer": [
{"data": {"name": "ob"}, "mark": {"type": "rule", "color": "#4d4d4d", "strokeWidth": 1.3},
 "encoding": {"xOffset": {"field": "sampler", "scale": {"paddingInner": 0.1, "paddingOuter": 0.05}},
  "y": {"field": "lo", "type": "quantitative", "title": "Multi-ESS", "scale": {"type": "log", "domain": [23.3, 832], "nice": false},
   "axis": {"values": [30, 100, 300], "format": "d", "labelFont": "Liberation Serif", "labelFontSize": 20, "labelColor": "#4d4d4d", "labelPadding": 6, "tickSize": 6, "tickWidth": 2, "tickColor": "#333333", "domainColor": "#555555", "domainWidth": 1.5, "grid": false, "titleAngle": 0, "titleAlign": "left", "titleBaseline": "alphabetic", "titleX": -97, "titleY": -11, "titleFontSize": 20.5, "titleFontWeight": "normal", "titleColor": "#1a1a1a"}},
  "y2": {"field": "hi"}}},
{"data": {"name": "ob"}, "mark": {"type": "bar", "stroke": "#333333", "strokeWidth": 1.3},
 "encoding": {"xOffset": {"field": "sampler", "scale": {"paddingInner": 0.1, "paddingOuter": 0.05}},
  "y": {"field": "q1", "type": "quantitative", "title": "Multi-ESS", "scale": {"type": "log", "domain": [23.3, 832], "nice": false}},
  "y2": {"field": "q3"},
  "fill": {"field": "sampler", "type": "nominal", "scale": {"domain": ["AM-sampler", "Gen. AM-sampler", "RAM-sampler"], "range": ["#F0D6A3", "#82A5C1", "#DA4921"]}}}},
{"data": {"name": "ob"}, "mark": {"type": "tick", "color": "#333333", "thickness": 2.5, "size": 19},
 "encoding": {"xOffset": {"field": "sampler", "scale": {"paddingInner": 0.1, "paddingOuter": 0.05}},
  "y": {"field": "med", "type": "quantitative", "title": "Multi-ESS", "scale": {"type": "log", "domain": [23.3, 832], "nice": false}}}},
{"data": {"name": "op"},
 "transform": [{"window": [{"op": "row_number", "as": "run"}], "groupby": ["guess", "sampler"]}, {"calculate": "100 + 100*indexof(['AM-sampler','Gen. AM-sampler','RAM-sampler'], datum.sampler) + datum.run", "as": "slot"}],
 "mark": {"type": "circle", "size": 30, "opacity": 1},
 "encoding": {"xOffset": {"field": "slot", "type": "ordinal", "scale": {"paddingInner": 0, "paddingOuter": 0}},
  "y": {"field": "ess", "type": "quantitative", "title": "Multi-ESS", "scale": {"type": "log", "domain": [23.3, 832], "nice": false}},
  "color": {"field": "particles", "type": "quantitative", "scale": {"type": "linear", "scheme": "viridis", "domain": [10, 200]}}}}
],
"resolve": {"scale": {"xOffset": "independent"}}
}
]
}
],
"spacing": 84,
"resolve": {"scale": {"color": "shared", "fill": "shared"}}
}
